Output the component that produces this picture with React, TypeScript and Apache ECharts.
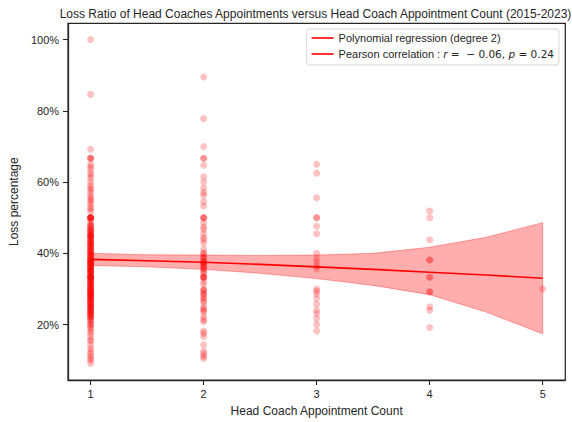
import React, { useEffect, useRef } from "react";
import * as echarts from "echarts";

// Loss percentage per head coach appointment, grouped by appointment count
const lossCount1 = [
  100, 84.6, 69.2, 66.7, 66.7, 66.7, 65.0, 64.3, 63.6, 62.5, 61.9, 61.1, 60.0, 59.1, 58.3, 57.9, 57.1,
  56.3, 55.6, 55.0, 54.5, 53.8, 52.9, 52.4, 51.7, 50.0, 50.0, 50.0, 50.0, 50.0, 49.2, 48.6, 48.1, 47.6,
  47.4, 46.9, 46.7, 46.2, 45.8, 45.5, 45.0, 44.7, 44.4, 44.0, 43.8, 43.5, 42.9, 42.9, 42.5, 42.1, 41.7,
  41.2, 40.9, 40.7, 40.5, 40.0, 40.0, 39.5, 39.1, 38.9, 38.5, 38.2, 37.9, 37.5, 37.5, 37.0, 36.8, 36.4,
  36.4, 36.0, 35.7, 35.3, 35.0, 34.8, 34.5, 34.2, 33.3, 33.3, 33.3, 33.3, 32.9, 32.4, 32.1, 31.8, 31.6,
  31.3, 31.0, 30.8, 30.4, 30.0, 30.0, 29.6, 29.4, 29.2, 28.9, 28.6, 28.6, 28.1, 27.8, 27.5, 27.3, 27.0,
  26.7, 26.3, 25.9, 25.6, 25.0, 25.0, 25.0, 24.6, 24.1, 23.8, 23.5, 23.1, 22.7, 22.2, 22.2, 21.7, 21.4,
  21.1, 20.6, 20.0, 20.0, 19.4, 18.8, 18.2, 17.6, 16.7, 15.8, 15.4, 14.3, 13.3, 12.5, 11.8, 11.1, 10.5,
  10.0, 9.1, 47.8, 46.4, 45.2, 44.8, 43.3, 42.3, 41.9, 41.4, 40.6, 39.3, 38.7, 38.1, 37.8, 37.2, 36.7,
  36.1, 35.5, 35.1, 34.6, 34.0, 33.8, 33.3, 32.6, 32.0, 31.4, 30.6, 30.2, 29.8, 29.0, 28.3, 28.0, 27.6,
  27.1, 26.5, 26.1, 25.5, 25.3, 24.4, 23.9, 23.3, 22.9, 22.4, 50.0, 50.0, 45.0, 40.0, 33.3, 42.9, 37.5,
  28.6, 46.2, 44.4, 35.7,
];
const lossCount2 = [
  89.5, 77.8, 70.0, 66.7, 66.7, 64.7, 61.5, 60.0, 58.3, 57.1, 56.3, 54.5, 53.3, 50.0, 50.0, 50.0, 48.6,
  47.4, 46.7, 45.5, 44.4, 43.8, 41.2, 40.0, 39.1, 38.5, 37.5, 37.5, 37.0, 36.4, 35.7, 35.3, 34.8, 33.3,
  33.3, 33.3, 32.1, 29.6, 29.4, 28.6, 28.6, 27.8, 27.3, 26.7, 25.0, 24.0, 23.5, 22.2, 21.4, 20.8, 18.2,
  17.6, 16.7, 14.3, 12.5, 11.8, 11.1, 10.5, 42.9, 40.0, 38.9, 37.8, 36.8, 34.4, 31.3, 30.0, 26.3, 24.4,
  36.0, 33.3,
];
const lossCount3 = [
  65.0, 62.5, 55.6, 50.0, 50.0, 47.6, 45.5, 40.0, 38.5, 37.5, 36.4, 35.7, 30.0, 29.4, 28.6, 27.3, 25.7,
  24.0, 23.1, 21.7, 20.0, 18.2,
];
const lossCount4 = [51.9, 50.0, 43.8, 38.1, 38.1, 33.3, 33.3, 29.2, 29.2, 25.0, 24.0, 19.2];
const lossCount5 = [30.0];
const groups = [lossCount1, lossCount2, lossCount3, lossCount4, lossCount5];

// Polynomial regression fit and its confidence band
const regX = [1, 1.5, 2, 2.5, 3, 3.5, 4, 4.5, 5];
const regFit = [38.3, 37.9, 37.5, 36.9, 36.2, 35.5, 34.7, 33.9, 33.0];
const ciUpper = [40.0, 39.6, 39.5, 39.4, 39.5, 40.0, 41.7, 44.5, 48.6];
const ciLower = [36.6, 36.2, 35.5, 34.4, 32.9, 31.0, 28.4, 23.5, 17.4];

const xTicks = [1, 2, 3, 4, 5];
const yTicks = [20, 40, 60, 80, 100];

const titleText =
  "Loss Ratio of Head Coaches Appointments versus Head Coach Appointment Count (2015-2023)";
const regName = "Polynomial regression (degree 2)";
const corrName = "Pearson correlation";

const FONT = "'Liberation Sans', Arial, sans-serif";
const INK = "#262626";

export default function App() {
  const ref = useRef<HTMLDivElement>(null);
  useEffect(() => {
    document.body.style.margin = "0";
    if (!ref.current) return;
    const chart = echarts.init(ref.current, null, { renderer: "svg" });
    const scatterData: number[][] = [];
    groups.forEach((g, i) => g.forEach((v) => scatterData.push([i + 1, v])));
    const gridLeft = 65.7, gridTop = 23.3, gridRight = 6.7, gridBottom = 41;
    chart.setOption({
      animation: false,
      textStyle: { fontFamily: FONT },
      graphic: [
        {
          type: "text",
          x: (gridLeft + 572 - gridRight) / 2,
          y: 14,
          style: {
            text: titleText,
            fontSize: 12,
            fontFamily: FONT,
            fill: INK,
            align: "center",
            verticalAlign: "middle",
          },
        },
      ],
      grid: {
        left: gridLeft,
        top: gridTop,
        right: gridRight,
        bottom: gridBottom,
        show: true,
        borderColor: INK,
        borderWidth: 1.25,
        backgroundColor: "#fff",
      },
      legend: {
        orient: "vertical",
        right: 13,
        top: 29,
        padding: [2, 5, 4, 5],
        itemGap: 2,
        itemWidth: 22,
        itemHeight: 1.6,
        backgroundColor: "#fff",
        borderColor: "#d6d6d6",
        borderWidth: 1,
        borderRadius: 3,
        data: [
          { name: regName, icon: "rect" },
          { name: corrName, icon: "rect" },
        ],
        formatter: (name: string) =>
          name === corrName
            ? `${corrName} : {i|r}{m| =  − 0.06, }{i|p}{m| = 0.24}`
            : name,
        textStyle: {
          fontFamily: FONT,
          fontSize: 11,
          color: INK,
          lineHeight: 14,
          rich: {
            i: { fontFamily: "'DejaVu Sans'", fontStyle: "italic", fontSize: 10.5, color: INK },
            m: { fontFamily: "'DejaVu Sans'", fontSize: 10.5, color: INK },
          },
        },
      },
      xAxis: {
        type: "value",
        min: 0.8,
        max: 5.2,
        name: "Head Coach Appointment Count",
        nameLocation: "middle",
        nameGap: 25,
        nameTextStyle: { fontSize: 12, color: INK, fontFamily: FONT },
        axisLine: { show: true, lineStyle: { color: INK, width: 1.25 } },
        axisTick: { show: true, customValues: xTicks, length: 5, lineStyle: { color: INK, width: 1.1 } },
        axisLabel: { customValues: xTicks, fontSize: 11, color: INK, margin: 8, fontFamily: FONT },
        splitLine: { show: false },
      },
      yAxis: {
        type: "value",
        min: 4.45,
        max: 104.55,
        name: "Loss percentage",
        nameLocation: "middle",
        nameGap: 44,
        nameTextStyle: { fontSize: 12, color: INK, fontFamily: FONT },
        axisLine: { show: true, lineStyle: { color: INK, width: 1.25 } },
        axisTick: { show: true, customValues: yTicks, length: 5, lineStyle: { color: INK, width: 1.1 } },
        axisLabel: {
          customValues: yTicks,
          fontSize: 11,
          color: INK,
          margin: 9,
          fontFamily: FONT,
          formatter: (v: number) => `${Math.round(v)}%`,
        },
        splitLine: { show: false },
      },
      series: [
        {
          type: "scatter",
          name: "points",
          data: scatterData,
          symbol: "circle",
          symbolSize: 7,
          itemStyle: { color: "rgba(255,0,0,0.3)" },
          z: 2,
        },
        {
          type: "custom",
          name: "ci",
          data: regX.map((x, i) => [x, ciUpper[i], ciLower[i]]),
          encode: { x: 0, y: [1, 2] },
          z: 3,
          renderItem: (params: any, api: any) => {
            if (params.dataIndex !== 0) return null;
            const upper = regX.map((x, i) => api.coord([x, ciUpper[i]]));
            const lower = regX.map((x, i) => api.coord([x, ciLower[i]])).reverse();
            return {
              type: "polygon",
              shape: { points: upper.concat(lower) },
              style: { fill: "rgba(255,0,0,0.32)", stroke: "rgba(255,0,0,0.32)", lineWidth: 1 },
            };
          },
        },
        {
          type: "line",
          name: regName,
          data: regX.map((x, i) => [x, regFit[i]]),
          symbol: "none",
          lineStyle: { color: "#ff0000", width: 1.6 },
          itemStyle: { color: "#ff0000" },
          z: 4,
        },
        {
          type: "line",
          name: corrName,
          data: [],
          symbol: "none",
          lineStyle: { color: "#ff0000", width: 1.6 },
          itemStyle: { color: "#ff0000" },
        },
      ],
    });
    return () => chart.dispose();
  }, []);
  return <div ref={ref} style={{ width: 572, height: 422 }} />;
}
